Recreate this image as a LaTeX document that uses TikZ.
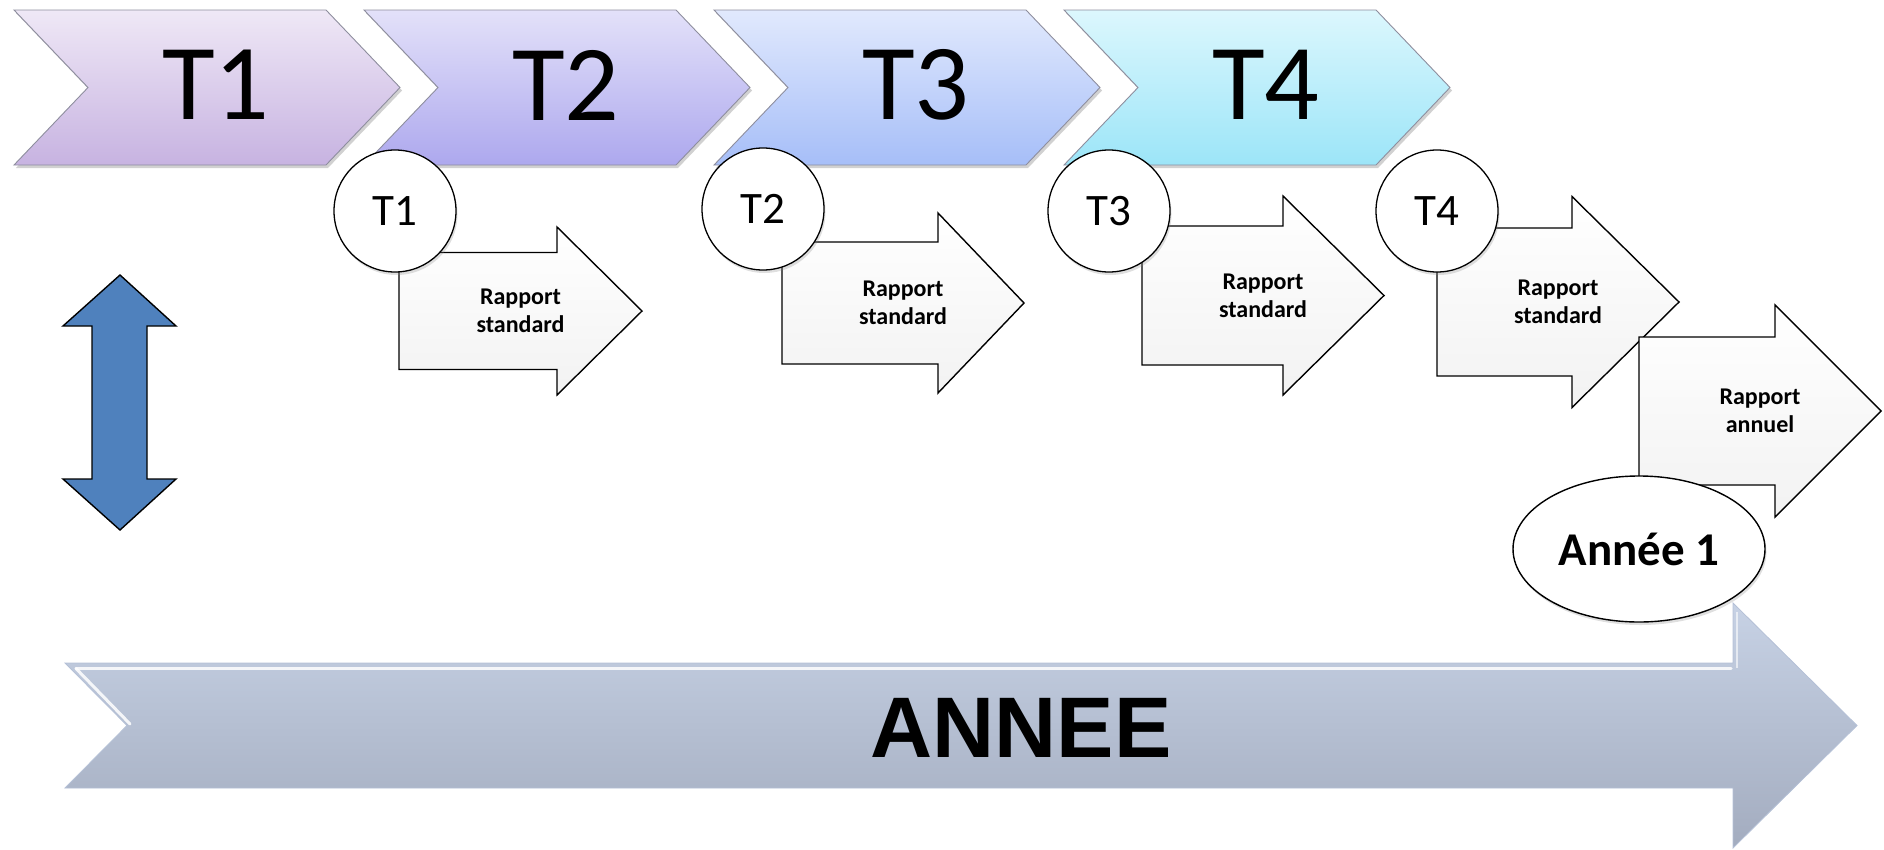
\documentclass[tikz,border=0pt]{standalone}
\usepackage{fontspec}
\setmainfont{Carlito}
\newfontfamily\calfont{Carlito}
\newfontfamily\annfont{Liberation Sans}
\usetikzlibrary{shadows}
\definecolor{chevborder}{HTML}{8E8E9E}
\definecolor{tAtop}{HTML}{EFE8F6}\definecolor{tAbot}{HTML}{C7B3E1}
\definecolor{tBtop}{HTML}{E3E1F9}\definecolor{tBbot}{HTML}{ADA8EE}
\definecolor{tCtop}{HTML}{E1E9FD}\definecolor{tCbot}{HTML}{A6BEF8}
\definecolor{tDtop}{HTML}{DCF7FD}\definecolor{tDbot}{HTML}{9CE5F8}
\definecolor{yeartop}{HTML}{C7D2E5}\definecolor{yearbot}{HTML}{A3ACBF}
\definecolor{yearedge}{HTML}{B4C0D6}
\definecolor{dblue}{HTML}{4F81BD}
\tikzset{
  chevtext/.style={font=\calfont\fontsize{108}{112}\selectfont, inner sep=0pt},
  tcirc/.style={circle, draw=black, line width=1.3pt, fill=white, minimum size=122pt, inner sep=0pt,
    font=\calfont\fontsize{45}{48}\selectfont,
    drop shadow={opacity=0.25, shadow xshift=1.5pt, shadow yshift=-3pt}},
  rapbox/.style={draw=black, line width=1.4pt, top color=white, bottom color=black!5},
  raptext/.style={font=\calfont\bfseries\fontsize{24}{28}\selectfont, align=center, inner sep=0pt},
}
\newcommand\mychev[5]{%
  \fill[black, opacity=0.18] ({#1+2},13) -- ({#1+314},13) -- ({#1+388},90.5) -- ({#1+314},168) -- ({#1+2},168) -- ({#1+76},90.5) -- cycle;
  \shade[top color=#2, bottom color=#3, draw=chevborder, line width=0.9pt]
    (#1,10) -- ({#1+312},10) -- ({#1+386},87.5) -- ({#1+312},165) -- (#1,165) -- ({#1+74},87.5) -- cycle;
  \node[chevtext] (#4) at ({#1+202},85) {#5};
}
\newcommand\myarrow[8]{%
  \path[rapbox] (#1,{#4-#5}) -- (#2,{#4-#5}) -- (#2,{#4-#6}) -- (#3,#4) -- (#2,{#4+#6}) -- (#2,{#4+#5}) -- (#1,{#4+#5}) -- cycle;
  \node[raptext] (#7) at ({(#1+#3)/2},#4) {#8};
}
\begin{document}
\begin{tikzpicture}[x=1pt, y=-1pt]
\useasboundingbox (0,0) rectangle (1884,849);
% chevrons
\mychev{14}{tAtop}{tAbot}{ch1}{T1}
\mychev{364}{tBtop}{tBbot}{ch2}{T2}
\mychev{714}{tCtop}{tCbot}{ch3}{T3}
\mychev{1064}{tDtop}{tDbot}{ch4}{T4}
% year arrow
\shade[top color=yeartop, bottom color=yearbot, draw=yearedge, line width=0.8pt]
  (65,663) -- (1733,663) -- (1733,603) -- (1857,725.5) -- (1733,848) -- (1733,788) -- (65,788) -- (127,725.5) -- cycle;
\draw[white, opacity=0.85, line width=3pt, line cap=round] (76,668.5) -- (1731,668.5);
\draw[white, opacity=0.85, line width=3pt, line cap=round] (76,668.5) -- (130,724);
\draw[white, opacity=0.6, line width=2pt] (1737,612) -- (1737,668);
\node[font=\annfont\bfseries\fontsize{86}{90}\selectfont, inner sep=0pt] (annee) at (1021,728) {ANNEE};
% double arrow
\path[fill=dblue, draw=black, line width=1.4pt]
  (120,275) -- (176,326) -- (147,326) -- (147,479) -- (176,479) -- (120,530) -- (63,479) -- (92,479) -- (92,326) -- (63,326) -- cycle;
% report arrows
\myarrow{399}{557}{642}{311}{58.5}{84}{r1}{Rapport\\standard}
\myarrow{782}{938}{1024}{303}{61}{90}{r2}{Rapport\\standard}
\myarrow{1142}{1283}{1384}{295.5}{69.5}{99.5}{r3}{Rapport\\standard}
\myarrow{1437}{1572}{1679}{302}{74}{105.5}{r4}{Rapport\\standard}
\myarrow{1639}{1775}{1881}{411}{74}{106}{r5}{Rapport\\annuel}
% circles
\node[tcirc] (c1) at (395,211) {T1};
\node[tcirc] (c2) at (763,209) {T2};
\node[tcirc] (c3) at (1109,211) {T3};
\node[tcirc] (c4) at (1437,211) {T4};
% year ellipse
\draw[fill=white, draw=black, line width=1.4pt, drop shadow={opacity=0.25, shadow xshift=1.5pt, shadow yshift=-3pt}]
  (1639,549) ellipse [x radius=126, y radius=73];
\node[font=\calfont\bfseries\fontsize{47}{50}\selectfont, inner sep=0pt] (an1) at (1639,549) {Année 1};
\end{tikzpicture}
\end{document}
